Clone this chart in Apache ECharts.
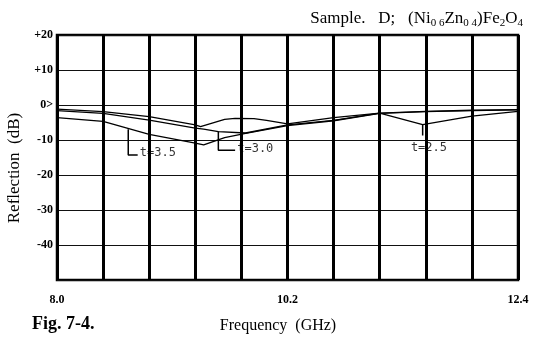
<!DOCTYPE html>
<html><head><meta charset="utf-8">
<script src="https://cdn.jsdelivr.net/npm/echarts@6/dist/echarts.min.js"></script>
<style>html,body{margin:0;padding:0;background:#fff}#c{width:536px;height:341px}</style>
</head><body><div id="c"></div>
<script>
// Reflection curves, frequency in GHz, reflection in dB
const freq35 = [8.0, 8.44, 8.88, 9.32, 9.4, 9.6, 9.8, 10.2, 10.64, 11.08, 11.52, 11.96, 12.4];
const refl35 = [-3.6, -4.7, -8.4, -10.9, -11.4, -9.3, -8.1, -5.9, -4.5, -2.4, -1.9, -1.6, -1.4];
const freq30 = [8.0, 8.44, 8.88, 9.32, 9.4, 9.54, 9.8, 10.2, 10.64, 11.08, 11.52, 11.96, 12.4];
const refl30 = [-1.6, -2.4, -4.3, -6.6, -6.9, -7.6, -8.0, -5.7, -4.4, -2.3, -1.8, -1.5, -1.3];
const freq25 = [8.0, 8.44, 8.88, 9.32, 9.37, 9.6, 9.7, 9.88, 10.0, 10.2, 10.64, 11.08, 11.49, 11.96, 12.4];
const refl25 = [-1.2, -1.9, -3.3, -5.7, -6.2, -4.1, -3.8, -3.9, -4.4, -5.4, -3.6, -2.3, -5.6, -3.2, -1.8];

const curveNames = ['t=3.5', 't=3.0', 't=2.5'];
const xTickValues = [8.0, 10.2, 12.4];
const xTickLabels = ['8.0', '10.2', '12.4'];
const yTickValues = [20, 10, 0, -10, -20, -30, -40];
const yTickLabels = ['+20', '+10', '0>', '-10', '-20', '-30', '-40'];

// annotation leader lines (data coords) and label anchors
const leader35 = [[8.68, -6.9], [8.68, -14.3], [8.77, -14.3]];
const leader30 = [[9.54, -7.6], [9.54, -12.9], [9.70, -12.9]];
const leader25 = [[11.49, -5.6], [11.49, -8.7]];
const labelAnchors = [[8.79, -13.8], [9.72, -12.4], [11.55, -12.3]];

const pairs = (xs, ys) => xs.map((x, i) => [x, ys[i]]);
const chart = echarts.init(document.getElementById('c'));
const serif = 'Liberation Serif';
const curve = (name, xs, ys) => ({
  name, type: 'line', data: pairs(xs, ys), symbol: 'none', z: 5,
  lineStyle: {color: '#000', width: 1.3}, itemStyle: {color: '#000'}
});
const leader = (d) => ({
  type: 'line', data: d, symbol: 'none', z: 6, silent: true,
  lineStyle: {color: '#000', width: 1.5}
});
chart.setOption({
  animation: false,
  title: {
    text: '{a|Sample.   D;   (Ni}{s|0 6}{a|Zn}{s|0 4}{a|)Fe}{s|2}{a|O}{s|4}',
    right: 8, top: 4,
    textStyle: {rich: {
      a: {fontFamily: serif, fontWeight: 'normal', fontSize: 17, color: '#000', lineHeight: 20, verticalAlign: 'middle'},
      s: {fontFamily: serif, fontWeight: 'normal', fontSize: 11, color: '#000', lineHeight: 6, verticalAlign: 'bottom'}
    }}
  },
  grid: {left: 57, right: 18, top: 35, bottom: 61, show: true, borderColor: '#000', borderWidth: 2.5},
  xAxis: {
    type: 'value', min: 8, max: 12.4, interval: 0.44,
    axisLine: {show: false}, axisTick: {show: false},
    splitLine: {show: true, lineStyle: {color: '#000', width: 3}},
    axisLabel: {
      margin: 14, fontFamily: serif, fontWeight: 'bold', fontSize: 12, color: '#000',
      formatter: v => { const i = xTickValues.findIndex(t => Math.abs(t - v) < 1e-6); return i >= 0 ? xTickLabels[i] : ''; }
    }
  },
  yAxis: {
    type: 'value', min: -50, max: 20, interval: 10,
    axisLine: {show: false}, axisTick: {show: false},
    splitLine: {show: true, lineStyle: {color: '#111', width: 1.1}},
    axisLabel: {
      margin: 4, fontFamily: serif, fontWeight: 'bold', fontSize: 12, color: '#000',
      formatter: v => { const i = yTickValues.findIndex(t => Math.abs(t - v) < 1e-6); return i >= 0 ? yTickLabels[i] : ''; }
    }
  },
  graphic: [
    {type: 'text', x: 15, y: 168, rotation: Math.PI / 2,
     style: {text: 'Reflection  (dB)', font: '17px "Liberation Serif"', fill: '#000', align: 'center', verticalAlign: 'middle'}},
    {type: 'text', x: 278, y: 326,
     style: {text: 'Frequency  (GHz)', font: '16px "Liberation Serif"', fill: '#000', align: 'center', verticalAlign: 'middle'}},
    {type: 'text', x: 32, y: 324,
     style: {text: 'Fig. 7-4.', font: 'bold 18px "Liberation Serif"', fill: '#000', align: 'left', verticalAlign: 'middle'}}
  ],
  series: [
    curve(curveNames[0], freq35, refl35),
    curve(curveNames[1], freq30, refl30),
    curve(curveNames[2], freq25, refl25),
    leader(leader35), leader(leader30), leader(leader25),
    {
      type: 'scatter', symbolSize: 0, z: 7, silent: true,
      data: labelAnchors.map((p, i) => ({
        value: p, name: curveNames[i],
        label: {show: true, position: i === 2 ? 'inside' : 'right', distance: 0}
      })),
      label: {formatter: p => p.name, fontFamily: 'DejaVu Sans Mono', fontSize: 12, color: '#000'}
    }
  ]
});
</script></body></html>
